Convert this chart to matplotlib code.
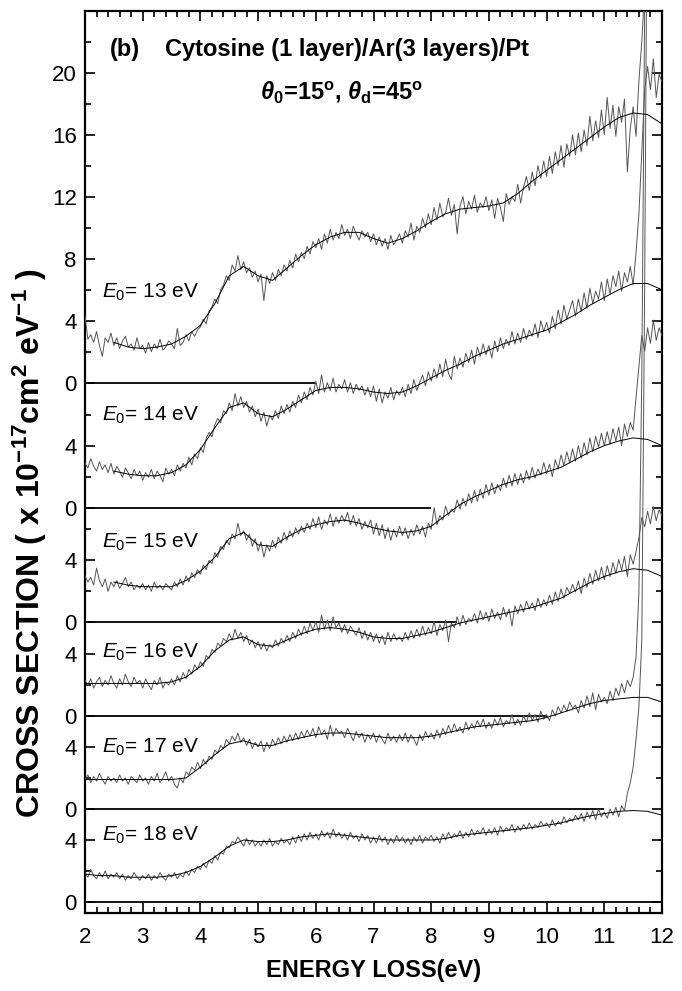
import numpy as np
import matplotlib
matplotlib.use("Agg")
import matplotlib.pyplot as plt
from matplotlib.ticker import FixedLocator, MultipleLocator

plt.rcParams['font.family'] = ['Liberation Sans', 'DejaVu Sans']
plt.rcParams['mathtext.fontset'] = 'custom'
plt.rcParams['mathtext.rm'] = 'Liberation Sans'
plt.rcParams['mathtext.it'] = 'Liberation Sans:italic'
plt.rcParams['mathtext.bf'] = 'Liberation Sans:bold'
plt.rcParams['mathtext.bfit'] = 'Liberation Sans:bold:italic'

# ---------------- data ----------------
energies = [13, 14, 15, 16, 17, 18]
offsets = [33.5, 25.4, 18.04, 12.0, 6.0, 0.0]
baseline_end = [6.0, 8.0, 8.45, 10.0, 11.0, 12.0]
fit_start = [2.5, 2.5, 2.5, 2.0, 2.0, 2.0]

raw_x = np.round(np.arange(2.0, 12.001, 0.05), 2)

raw_13 = [4.3, 2.8, 3.1, 2.6, 3.3, 2.4, 1.7, 2.9, 2.6, 3.2,
          2.4, 2.9, 2.2, 2.7, 3.0, 2.3, 2.5, 2.1, 2.9, 2.2,
          2.4, 1.9, 2.6, 2.0, 2.5, 2.2, 2.8, 2.1, 2.3, 2.7,
          2.5, 2.2, 3.5, 2.4, 2.6, 3.1, 2.7, 3.3, 3.0, 3.4,
          3.6, 4.1, 3.8, 4.6, 4.9, 5.4, 5.1, 6.0, 6.3, 6.9,
          6.6, 7.6, 7.2, 8.2, 7.3, 7.8, 7.1, 7.4, 6.8, 7.2,
          6.5, 7.0, 5.3, 6.9, 6.4, 7.1, 6.6, 7.3, 6.9, 7.6,
          7.2, 7.9, 7.4, 8.3, 7.8, 8.4, 8.0, 8.8, 8.3, 9.1,
          8.7, 9.3, 8.6, 9.6, 9.0, 9.9, 9.2, 9.7, 9.3, 10.2,
          9.5, 9.9, 9.3, 10.1, 9.6, 9.2, 9.8, 9.4, 9.7, 9.1,
          9.6, 8.9, 9.4, 8.8, 9.3, 8.6, 9.5, 8.9, 9.2, 9.6,
          9.0, 9.8, 9.4, 10.3, 9.2, 10.1, 9.7, 10.6, 10.0, 10.9,
          10.2, 11.3, 10.5, 11.6, 10.7, 11.0, 11.9, 10.8, 11.5, 9.6,
          11.4, 12.0, 10.9, 11.7, 11.2, 12.1, 11.0, 11.6, 11.3, 12.0,
          11.1, 11.8, 10.6, 11.9, 11.3, 10.4, 12.2, 11.5, 12.0, 11.7,
          12.8, 11.6, 12.6, 13.3, 12.4, 13.6, 12.7, 14.0, 13.2, 14.3,
          13.3, 14.6, 13.5, 14.9, 14.0, 15.3, 13.9, 15.4, 14.6, 16.0,
          14.7, 16.1, 14.9, 16.3, 15.3, 17.2, 15.6, 16.9, 15.8, 17.6,
          16.0, 18.4, 16.4, 17.9, 15.9, 17.8, 16.8, 18.3, 13.6, 16.4,
          17.8, 15.9, 19.5, 22.0, 25.5, 30.0, 28.0, 30.0, 29.0, 31.0,
          30.0]

raw_14 = [2.9, 2.6, 3.2, 2.7, 2.4, 3.0, 2.5, 2.8, 2.3, 2.9,
          2.2, 2.7, 2.4, 2.0, 2.6, 2.3, 1.9, 2.5, 2.1, 2.4,
          1.8, 2.3, 2.0, 2.5, 1.9, 2.4, 2.1, 1.7, 2.6, 2.2,
          2.5, 2.1, 2.8, 2.4, 2.9, 2.6, 3.3, 2.8, 3.5, 3.2,
          3.9, 3.6, 4.5, 4.9, 4.6, 5.4, 5.8, 5.5, 6.3, 6.1,
          6.8, 6.3, 7.4, 6.6, 7.2, 6.5, 6.9, 6.2, 6.6, 5.9,
          6.4, 5.6, 6.2, 5.3, 6.0, 5.7, 6.3, 5.8, 6.6, 6.1,
          6.7, 6.2, 6.9, 6.5, 7.3, 6.8, 7.5, 7.0, 7.8, 7.3,
          8.2, 7.4, 8.6, 7.5, 8.1, 7.6, 8.4, 7.5, 8.0, 7.7,
          8.3, 7.5, 8.1, 7.4, 8.0, 7.6, 7.9, 7.3, 7.8, 7.2,
          7.9, 6.9, 7.7, 6.8, 7.5, 7.1, 7.8, 7.0, 7.6, 7.3,
          7.8, 7.2, 8.0, 7.4, 8.3, 7.6, 8.1, 8.6, 7.9, 8.8,
          8.2, 9.0, 8.4, 9.3, 8.5, 9.6, 8.7, 8.3, 9.8, 9.0,
          9.7, 9.1, 10.0, 9.4, 10.2, 9.3, 10.4, 9.8, 10.6, 9.9,
          10.5, 9.7, 10.8, 10.1, 11.0, 10.3, 10.9, 10.5, 11.4, 10.6,
          11.3, 10.7, 11.6, 10.9, 11.5, 11.1, 11.9, 11.0, 12.1, 11.4,
          12.0, 11.3, 12.4, 11.6, 12.8, 11.9, 13.1, 12.2, 12.8, 13.4,
          12.4, 13.5, 12.7, 13.9, 12.9, 14.2, 13.2, 14.0, 13.5, 14.6,
          13.4, 14.8, 13.8, 15.0, 14.3, 15.3, 14.0, 15.2, 14.6, 15.6,
          14.4, 16.5, 19.0, 23.0, 27.0, 28.5, 27.0, 29.0, 26.5, 28.0,
          27.5]

raw_15 = [3.0, 2.6, 2.9, 2.4, 3.5, 2.7, 2.3, 2.8, 2.0, 2.6,
          2.3, 2.7, 2.2, 2.5, 2.9, 2.3, 2.6, 2.1, 2.4, 2.2,
          2.5, 2.1, 2.4, 2.0, 2.6, 2.2, 2.4, 2.1, 2.5, 2.3,
          2.1, 2.6, 2.3, 2.8, 2.4, 3.0, 2.6, 3.2, 2.9, 3.4,
          3.1, 3.7, 3.4, 4.0, 3.8, 4.5, 4.2, 4.9, 4.7, 5.3,
          5.0, 5.7, 5.4, 6.4, 5.6, 5.9, 5.3, 5.7, 4.9, 5.4,
          4.6, 5.2, 4.2, 5.0, 4.6, 5.3, 4.8, 5.5, 5.1, 5.8,
          5.3, 5.9, 5.5, 6.1, 5.7, 6.2, 5.8, 6.4, 6.0, 6.7,
          6.1, 6.8, 6.0, 6.6, 6.3, 7.0, 6.2, 6.8, 6.4, 6.9,
          6.5, 7.1, 6.3, 6.9, 6.2, 6.7, 6.0, 6.5, 6.1, 6.6,
          5.7, 6.4, 5.6, 6.3, 5.4, 6.1, 5.3, 6.0, 5.5, 6.2,
          5.6, 6.1, 5.4, 6.0, 5.6, 6.3, 5.7, 6.2, 5.5, 6.4,
          6.0, 7.4, 6.3, 6.9, 6.6, 7.5, 6.9, 7.3, 7.1, 7.9,
          7.3, 8.0, 7.5, 8.3, 7.7, 8.5, 7.8, 8.6, 8.0, 8.9,
          8.2, 9.0, 8.3, 8.9, 8.5, 9.3, 8.7, 9.5, 8.8, 9.6,
          8.9, 9.6, 9.0, 9.8, 9.2, 10.0, 9.3, 9.9, 9.5, 10.3,
          9.6, 10.2, 9.4, 10.5, 9.9, 10.8, 10.1, 11.0, 10.3, 11.2,
          10.4, 11.4, 10.6, 11.6, 10.8, 11.9, 11.0, 12.0, 11.3, 12.2,
          11.4, 12.3, 11.5, 12.5, 11.7, 12.6, 11.4, 12.8, 12.0, 12.9,
          12.4, 14.5, 16.5, 18.5, 17.5, 19.0, 18.0, 19.5, 18.2, 19.0,
          18.5]

raw_16 = [2.3, 2.0, 2.4, 1.8, 2.2, 2.5, 1.9, 2.3, 2.0, 2.6,
          2.1, 1.8, 2.4, 2.0, 2.7, 2.2, 1.9, 2.5, 2.1, 2.3,
          1.8, 2.4, 2.0, 1.7, 2.3, 2.0, 2.5, 1.8, 2.2, 2.0,
          2.4, 2.0, 2.6, 2.2, 2.8, 2.4, 3.0, 2.7, 3.3, 3.0,
          3.5, 3.2, 3.9, 3.7, 4.3, 4.1, 4.7, 4.5, 5.0, 4.8,
          5.3, 4.9, 5.6, 5.0, 5.4, 4.8, 5.2, 4.6, 4.9, 4.4,
          4.8, 4.3, 4.7, 4.2, 4.6, 4.4, 4.9, 4.5, 5.0, 4.7,
          5.2, 4.8, 5.4, 5.0, 5.6, 5.2, 5.8, 5.3, 6.0, 5.5,
          6.1, 5.4, 6.5, 5.6, 6.2, 5.5, 6.4, 5.7, 6.0, 5.4,
          5.9, 5.3, 5.8, 5.5, 5.2, 5.7, 5.0, 5.5, 4.9, 5.4,
          4.8, 5.3, 4.7, 5.2, 4.6, 5.4, 4.8, 5.3, 4.9, 5.1,
          4.8, 5.4, 4.9, 5.5, 5.0, 5.6, 5.1, 5.8, 5.2, 5.7,
          5.3, 6.1, 5.2, 5.9, 5.5, 6.2, 4.8, 6.0, 5.7, 6.4,
          5.8, 6.5, 5.9, 6.3, 6.1, 6.6, 6.0, 6.8, 6.2, 6.7,
          6.1, 6.9, 6.3, 6.7, 6.2, 7.0, 6.4, 6.9, 5.8, 7.1,
          6.6, 7.2, 6.7, 7.4, 6.9, 7.3, 6.8, 7.6, 7.0, 7.5,
          7.1, 7.8, 7.2, 8.0, 7.4, 8.2, 7.6, 8.3, 7.9, 8.5,
          8.0, 8.7, 7.9, 8.9, 8.3, 9.2, 8.5, 9.4, 8.7, 9.6,
          8.8, 9.7, 9.0, 9.9, 9.2, 10.1, 9.4, 10.3, 9.0, 10.4,
          9.8, 10.6, 11.5, 12.8, 12.2, 13.2, 12.4, 13.5, 12.6, 13.3,
          12.9]

raw_17 = [1.9, 2.2, 1.7, 2.1, 1.8, 2.3, 1.9, 1.6, 2.1, 1.8,
          2.0, 1.7, 2.2, 1.8, 2.0, 1.6, 2.1, 1.9, 1.7, 2.2,
          1.8, 2.0, 1.6, 2.1, 1.8, 2.3, 1.7, 2.0, 2.4, 1.8,
          2.1, 1.6, 1.35, 2.0, 1.7, 2.4, 2.2, 2.7, 2.5, 3.0,
          2.6, 3.2, 2.9, 3.4, 3.2, 3.8, 3.6, 4.1, 3.9, 4.5,
          4.2, 4.7, 4.4, 4.9, 4.3, 4.6, 4.1, 4.5, 3.9, 4.3,
          4.0, 4.4, 3.7, 4.3, 3.9, 4.5, 4.1, 4.6, 4.2, 4.7,
          4.3, 4.8, 4.4, 4.9, 4.5, 5.0, 4.6, 5.1, 4.7, 5.2,
          4.6, 5.3, 4.8, 5.1, 4.5, 5.4, 4.7, 5.2, 4.9, 5.0,
          4.6, 5.2, 4.8, 4.4, 5.0, 4.6, 4.9, 4.3, 4.8, 4.5,
          4.9, 4.3, 4.8, 4.5, 4.2, 4.9, 4.4, 4.7, 4.3, 4.8,
          4.4, 4.9, 4.3, 4.8, 4.5, 4.1, 4.8, 4.4, 5.0, 4.6,
          4.9, 4.5, 5.1, 4.6, 5.2, 4.8, 5.4, 4.9, 5.5, 5.0,
          5.3, 4.9, 5.6, 5.1, 5.5, 5.2, 5.7, 5.3, 5.8, 5.2,
          5.6, 5.2, 5.8, 5.4, 5.9, 5.3, 5.7, 5.5, 6.1, 5.4,
          5.8, 5.4, 6.0, 5.6, 6.2, 5.7, 6.1, 5.6, 6.3, 5.8,
          6.1, 5.7, 6.4, 6.0, 6.6, 6.2, 6.7, 6.3, 6.9, 6.5,
          6.7, 6.2, 7.0, 6.5, 7.3, 6.6, 7.5, 6.4, 7.4, 6.9,
          7.2, 6.8, 7.6, 7.0, 7.8, 7.3, 8.1, 7.5, 8.3, 7.9,
          8.5, 9.8, 14.0, 28.0, 52.0, 70.0, 70.0, 70.0, 70.0, 70.0,
          70.0]

raw_18 = [1.9, 1.6, 2.1, 1.7, 1.5, 1.9, 1.6, 2.0, 1.5, 1.8,
          1.6, 1.9, 1.5, 1.8, 1.4, 1.7, 1.5, 1.9, 1.6, 1.4,
          1.7, 1.5, 1.8, 1.4, 1.7, 1.5, 1.9, 1.6, 1.4, 1.8,
          1.6, 1.9, 1.5, 1.8, 1.6, 2.0, 1.7, 2.1, 1.9, 2.3,
          2.1, 2.5, 2.2, 2.7, 2.5, 3.0, 2.7, 3.2, 3.1, 3.6,
          3.5, 3.9, 3.8, 4.2, 3.9, 3.6, 4.1, 3.7, 4.0, 3.6,
          3.9, 3.6, 4.0, 3.7, 4.1, 3.6, 3.9, 3.7, 4.1, 3.8,
          4.0, 3.7, 4.2, 3.8, 4.3, 3.9, 4.4, 4.0, 4.5, 4.1,
          4.4, 4.0, 4.6, 4.2, 4.5, 4.1, 4.7, 4.2, 4.5, 4.1,
          4.4, 4.0, 4.5, 4.1, 4.3, 3.9, 4.4, 4.0, 4.3, 3.8,
          4.2, 3.8, 4.3, 3.9, 4.2, 3.7, 4.1, 3.8, 4.3, 3.9,
          4.2, 3.8, 4.1, 3.7, 4.2, 3.9, 4.3, 3.8, 4.2, 4.0,
          4.3, 3.9, 4.2, 3.8, 4.4, 4.0, 4.5, 4.1, 4.4, 4.2,
          4.6, 4.1, 4.5, 4.2, 4.7, 4.3, 4.6, 4.4, 4.8, 4.3,
          4.7, 4.4, 4.8, 4.3, 4.9, 4.5, 4.8, 4.6, 5.0, 4.5,
          4.9, 4.6, 5.0, 4.7, 5.1, 4.7, 5.0, 4.8, 5.2, 4.9,
          5.1, 4.8, 5.3, 4.9, 5.2, 5.0, 5.5, 5.1, 5.4, 5.2,
          5.6, 5.3, 5.7, 5.2, 5.8, 5.4, 5.9, 5.3, 6.0, 5.5,
          5.8, 5.4, 6.0, 5.6, 6.1, 5.5, 6.2, 5.9, 7.0, 7.7,
          8.7, 10.5, 12.6, 16.9, 40.0, 70.0, 70.0, 70.0, 70.0, 70.0,
          70.0]

fit_13 = [2.6, 2.3, 2.2, 2.3, 2.5, 3.0, 3.7, 5.1, 6.9, 7.5, 6.9, 6.6, 7.4,
          8.2, 8.9, 9.4, 9.7, 9.7, 9.3, 9.0, 9.3, 9.8, 10.4, 10.9, 11.2, 11.3,
          11.4, 11.6, 12.2, 13.0, 13.7, 14.4, 15.1, 15.8, 16.5, 17.1, 17.4,
          17.3, 16.7]
fit_14 = [2.4, 2.2, 2.1, 2.1, 2.3, 2.8, 3.8, 5.2, 6.5, 6.8, 6.1, 5.9, 6.4,
          7.0, 7.6, 7.8, 7.8, 7.7, 7.5, 7.4, 7.5, 7.9, 8.4, 8.9, 9.3, 9.8,
          10.2, 10.6, 10.9, 11.2, 11.5, 12.0, 12.5, 13.1, 13.6, 14.1, 14.5,
          14.5, 14.1]
fit_15 = [2.6, 2.4, 2.3, 2.3, 2.3, 2.7, 3.3, 4.2, 5.4, 5.8, 5.0, 4.9, 5.5,
          6.0, 6.3, 6.5, 6.6, 6.4, 6.1, 5.9, 5.8, 5.9, 6.2, 6.9, 7.6, 8.1,
          8.5, 8.9, 9.2, 9.4, 9.7, 10.0, 10.5, 11.0, 11.4, 11.7, 11.9,
          11.8, 11.4]
fit_16 = [2.1, 2.1, 2.1, 2.1, 2.1, 2.1, 2.2, 2.5, 3.2, 4.2, 4.9, 5.1, 4.6,
          4.5, 4.9, 5.3, 5.6, 5.7, 5.6, 5.4, 5.1, 5.0, 5.0, 5.2, 5.4, 5.7,
          6.0, 6.2, 6.4, 6.6, 6.8, 7.0, 7.3, 7.6, 8.1, 8.6, 9.0, 9.3, 9.5,
          9.4, 9.0]
fit_17 = [1.9, 1.9, 1.9, 1.9, 1.9, 1.9, 1.9, 2.0, 2.7, 3.5, 4.2, 4.4, 4.1,
          4.1, 4.4, 4.6, 4.8, 4.9, 4.9, 4.8, 4.7, 4.6, 4.6, 4.6, 4.7, 4.9,
          5.1, 5.3, 5.4, 5.5, 5.6, 5.7, 5.9, 6.2, 6.5, 6.8, 7.0, 7.1, 7.2,
          7.2, 6.9]
fit_18 = [1.8, 1.7, 1.7, 1.6, 1.6, 1.6, 1.7, 1.9, 2.3, 2.9, 3.6, 4.0, 3.9,
          3.9, 4.0, 4.2, 4.3, 4.4, 4.3, 4.2, 4.1, 4.0, 4.0, 4.0, 4.0, 4.1,
          4.3, 4.4, 4.5, 4.6, 4.7, 4.8, 4.95, 5.1, 5.35, 5.55, 5.7, 5.85,
          5.9, 5.85, 5.6]

raw_all = [raw_13, raw_14, raw_15, raw_16, raw_17, raw_18]
fit_all = [fit_13, fit_14, fit_15, fit_16, fit_17, fit_18]

# tick values (local units) for each stacked spectrum
tick_local = [list(range(0, 23, 2)), [0, 2, 4, 6], [0, 2, 4, 6], [0, 2, 4], [0, 2, 4], [0, 2, 4]]
label_local = [[0, 4, 8, 12, 16, 20], [0, 4], [0, 4], [0, 4], [0, 4], [0, 4]]

# ---------------- figure ----------------
W, H = 682, 991
fig = plt.figure(figsize=(W / 100, H / 100), dpi=100)
ax = fig.add_axes([85 / W, (H - 913) / H, (662 - 85) / W, (913 - 11) / H])

for i, E in enumerate(energies):
    off = offsets[i]
    ax.plot([2.0, baseline_end[i]], [off, off], color='black', lw=1.3, zorder=2,
            solid_capstyle='butt')
    ax.plot(raw_x[:len(raw_all[i])], np.array(raw_all[i]) + off, color='#555555',
            lw=0.7, zorder=3)
    fx = np.arange(fit_start[i], 12.001, 0.25)
    ax.plot(fx, np.array(fit_all[i]) + off, color='black', lw=0.7, zorder=4)

ax.set_xlim(2, 12)
ax.set_ylim(-0.71, 57.48)

# y ticks
major_pos, major_lab, minor_pos = [], [], []
for i in range(len(energies)):
    for v in tick_local[i]:
        if v in label_local[i]:
            major_pos.append(offsets[i] + v)
            major_lab.append(str(v))
        else:
            minor_pos.append(offsets[i] + v)
ax.yaxis.set_major_locator(FixedLocator(major_pos))
ax.set_yticklabels(major_lab)
ax.yaxis.set_minor_locator(FixedLocator(minor_pos))
ax.xaxis.set_major_locator(MultipleLocator(1))
ax.xaxis.set_minor_locator(MultipleLocator(0.2))

ax.tick_params(which='both', direction='in', top=True, right=True, width=1.2)
ax.tick_params(which='major', length=7, labelsize=16)
ax.tick_params(which='minor', length=4)
ax.tick_params(axis='x', which='major', pad=10)
ax.tick_params(axis='y', which='major', pad=6)
for s in ax.spines.values():
    s.set_linewidth(1.6)

ax.set_xlabel('ENERGY LOSS(eV)', fontsize=17, fontweight='bold', va='center')
ax.xaxis.set_label_coords(0.5, -0.0632)
ax.set_ylabel(r'CROSS SECTION ( x 10$^{\mathbf{-17}}$cm$^{\mathbf{ 2}}$ eV$^{\mathbf{ -1}}$ )',
              fontsize=23, fontweight='bold', va='center')
ax.yaxis.set_label_coords(-0.095, 0.41)

# texts
ax.text(0.043, 0.957, '(b)', transform=ax.transAxes, fontsize=17,
        fontweight='bold', va='center', ha='left')
ax.text(0.139, 0.957, 'Cytosine (1 layer)/Ar(3 layers)/Pt', transform=ax.transAxes,
        fontsize=17, fontweight='bold', va='center', ha='left')
ax.text(0.445, 0.910,
        r'$\mathbfit{\theta}_{\mathbf{0}}$=15$^{\mathbf{o}}$, $\mathbfit{\theta}_{\mathbf{d}}$=45$^{\mathbf{o}}$',
        transform=ax.transAxes, fontsize=17, fontweight='bold', va='center', ha='center')

label_y = [39.35, 31.4, 23.2, 16.1, 10.0, 4.3]
for i, E in enumerate(energies):
    ax.text(2.29, label_y[i], r'$E_0$= %d eV' % E, fontsize=15, va='center', ha='left')

fig.savefig('out.png', dpi=100)
